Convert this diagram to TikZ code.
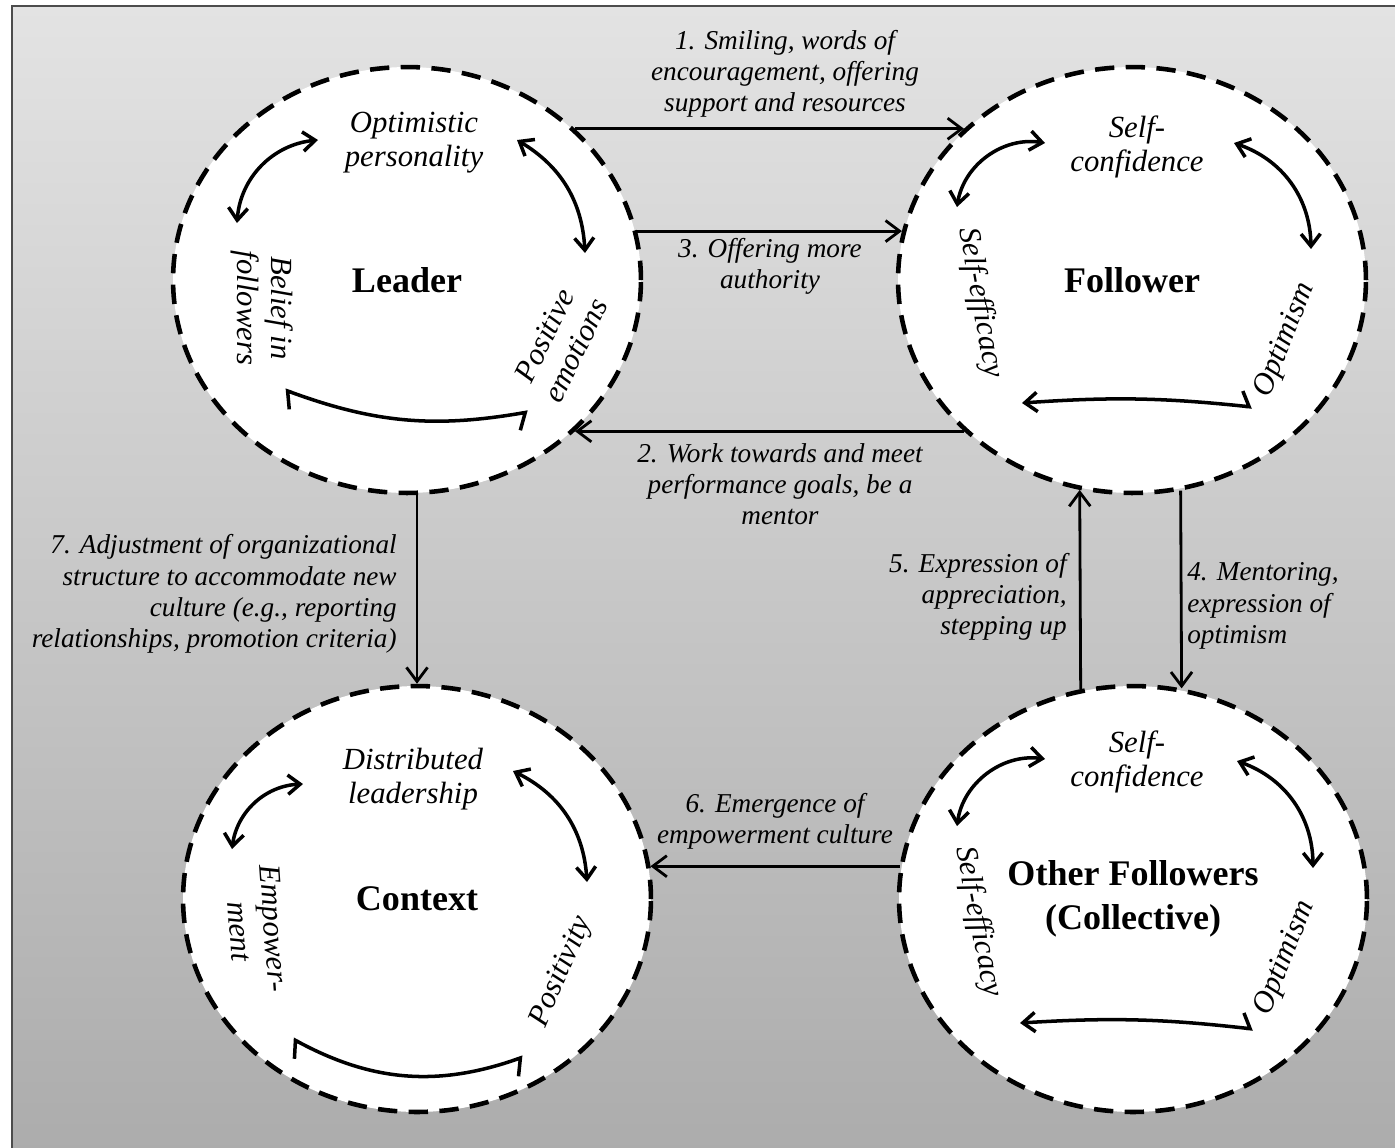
\documentclass[tikz,border=0pt]{standalone}
\usepackage{fontspec}
\setmainfont{Liberation Serif}
\usetikzlibrary{arrows.meta,shapes.geometric,calc}
\tikzset{
  party/.style={ellipse, draw, fill=white, line width=2.6pt,
    dash pattern=on 11pt off 6.5pt, minimum width=9.36cm,
    minimum height=8.52cm, inner sep=0pt, align=center,
    font=\fontsize{20.5}{25}\selectfont\bfseries},
  trait/.style={align=center, inner sep=0pt,
    font=\fontsize{17.5}{19.5}\selectfont\itshape},
  msg/.style={inner sep=0pt, font=\fontsize{15.5}{17.8}\selectfont\itshape},
  conn/.style={line width=1.6pt, -{Straight Barb[length=8pt,width=12pt]}},
  tie/.style={line width=2pt},
  both/.style={tie, {Straight Barb[length=7pt,width=11pt]}-{Straight Barb[length=7pt,width=11pt]}},
  hooks/.style={tie, {Straight Barb[right,length=4.5pt,width=19pt]}-{Straight Barb[left,length=4.5pt,width=19pt]}},
  half/.style={tie, {Straight Barb[left,length=4.5pt,width=17pt]}-{Straight Barb[length=7pt,width=11pt]}}
}

\begin{document}
\begin{tikzpicture}[x=0.02cm,y=-0.02cm]
\useasboundingbox (0,0) rectangle (1395,1147);
\fill[white] (0,0) rectangle (1395,1147);
\fill[top color=gray!22, bottom color=gray!65] (12,6) rectangle (1400,1152);
\draw[line width=1.2pt, black!70] (12,1152) -- (12,6) -- (1400,6);

% the four actors
\node[party] (leader) at (407,280) {Leader};
\node[party] (follower) at (1132,280) {Follower};
\node[party] (context) at (417,899) {Context};
\node[party] (others) at (1133,899) {Other Followers\\(Collective)};

% leader
\node[trait] (optim) at (414,143) {Optimistic\\personality};
\node[trait, rotate=-90] (belief) at (262,308) {Belief in\\followers};
\node[trait, rotate=64] (posem) at (560,343) {Positive\\emotions};
\coordinate (la1) at ($(leader)+(-170,-57)$);
\coordinate (la2) at ($(leader)+(-89,-140)$);
\coordinate (lb1) at ($(leader)+(110,-140)$);
\coordinate (lb2) at ($(leader)+(178,-27)$);
\coordinate (lc1) at ($(leader)+(121,132)$);
\coordinate (lc2) at ($(leader)+(-122,110)$);
\draw[both] (la1) to[bend left=40] (la2);
\draw[both] (lb1) to[bend left=28] (lb2);
\draw[hooks] (lc1) to[bend left=15] (lc2);

% follower
\node[trait] (fconf) at (1137,147) {Self-\\confidence};
\node[trait, rotate=-80] (feff) at (980,303) {Self-efficacy};
\node[trait, rotate=68] (fopt) at (1285,340) {Optimism};
\coordinate (fa1) at ($(follower)+(-175,-73)$);
\coordinate (fa2) at ($(follower)+(-87,-137)$);
\coordinate (fb1) at ($(follower)+(102,-137)$);
\coordinate (fb2) at ($(follower)+(179,-31)$);
\coordinate (fc1) at ($(follower)+(120,127)$);
\coordinate (fc2) at ($(follower)+(-110,123)$);
\draw[both] (fa1) to[bend left=45] (fa2);
\draw[both] (fb1) to[bend left=35] (fb2);
\draw[half] (fc1) to[bend right=5] (fc2);

% other followers
\node[trait] (oconf) at (1137,762) {Self-\\confidence};
\node[trait, rotate=-79] (oeff) at (978,922) {Self-efficacy};
\node[trait, rotate=68] (oopt) at (1285,958) {Optimism};
\coordinate (oa1) at ($(others)+(-176,-73)$);
\coordinate (oa2) at ($(others)+(-88,-140)$);
\coordinate (ob1) at ($(others)+(104,-138)$);
\coordinate (ob2) at ($(others)+(180,-31)$);
\coordinate (oc1) at ($(others)+(120,130)$);
\coordinate (oc2) at ($(others)+(-113,124)$);
\draw[both] (oa1) to[bend left=45] (oa2);
\draw[both] (ob1) to[bend left=35] (ob2);
\draw[half] (oc1) to[bend right=5] (oc2);

% context
\node[trait] (distr) at (413,779) {Distributed\\leadership};
\node[trait, rotate=-86] (empow) at (257,930) {Empower-\\ment};
\node[trait, rotate=67] (posit) at (562,972) {Positivity};
\coordinate (ca1) at ($(context)+(-185,-50)$);
\coordinate (ca2) at ($(context)+(-114,-115)$);
\coordinate (cb1) at ($(context)+(96,-128)$);
\coordinate (cb2) at ($(context)+(170,-17)$);
\coordinate (cc1) at ($(context)+(106,158)$);
\coordinate (cc2) at ($(context)+(-124,140)$);
\draw[both] (ca1) to[bend left=40] (ca2);
\draw[both] (cb1) to[bend left=30] (cb2);
\draw[hooks] (cc1) to[bend left=24] (cc2);

% exchanges between the actors
\draw[conn] (leader.42) -- (follower.138);
\draw[conn] (leader.12) -- (follower.168);
\draw[conn] (follower.-138) -- (leader.-42);
\draw[conn] (follower.-77) -- (others.77);
\draw[conn] (others.104) -- (follower.-104);
\draw[conn] (others.172) -- (context.8);
\draw[conn] (context.north |- leader.south) -- (context.north);

\node[msg, align=center] (msg1) at (785,74) {1. Smiling, words of\\encouragement, offering\\support and resources};
\node[msg, align=center] (msg2) at (780,484) {2. Work towards and meet\\performance goals, be a\\mentor};
\node[msg, align=center] (msg3) at (770,266) {3. Offering more\\authority};
\node[msg, align=left, anchor=west] (msg4) at (1187,606) {4. Mentoring,\\expression of\\optimism};
\node[msg, align=right, anchor=east] (msg5) at (1067,597) {5. Expression of\\appreciation,\\stepping up};
\node[msg, align=center] (msg6) at (775,821) {6. Emergence of\\empowerment culture};
\node[msg, align=right, anchor=east] (msg7) at (397,594) {7. Adjustment of organizational\\structure to accommodate new\\culture (e.g., reporting\\relationships, promotion criteria)};
\end{tikzpicture}
\end{document}
